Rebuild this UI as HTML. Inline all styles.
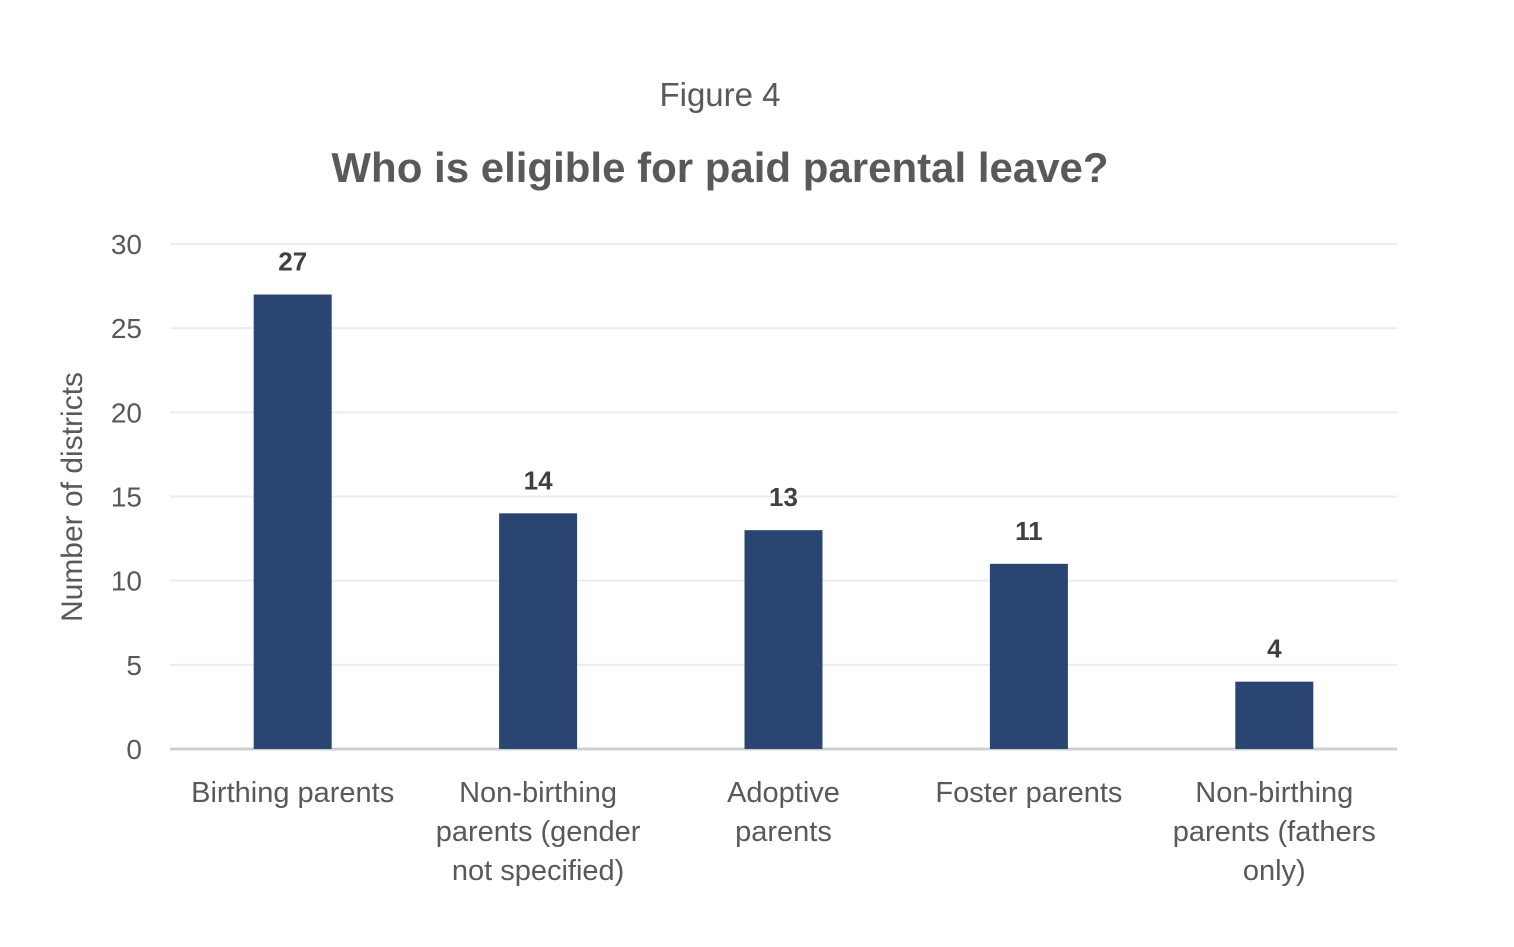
<!DOCTYPE html>
<html><head><meta charset="utf-8"><style>
body{margin:0;background:#fff;}
svg text{font-family:"Liberation Sans",Arial,sans-serif;}
</style></head><body>
<svg width="1514" height="942" id="c">
<text x="720" y="106" text-anchor="middle" font-size="33" fill="#595959">Figure 4</text>
<text x="720" y="182" text-anchor="middle" font-size="42" font-weight="bold" fill="#595959">Who is eligible for paid parental leave?</text>
<text transform="translate(82,497) rotate(-90)" text-anchor="middle" font-size="30" fill="#595959">Number of districts</text>
<g id="g"></g>
</svg>
<script>
const categories=[["Birthing parents"],["Non-birthing","parents (gender","not specified)"],["Adoptive","parents"],["Foster parents"],["Non-birthing","parents (fathers","only)"]];
const values=[27,14,13,11,4];
const yTicks=[0,5,10,15,20,25,30];
const NS="http://www.w3.org/2000/svg";
const g=document.getElementById('g');
const x0=170,x1=1397,yBase=749,yTop=244,yMax=30;
const y=v=>yBase-(v/yMax)*(yBase-yTop);
const band=(x1-x0)/categories.length;
const cx=i=>x0+band*(i+0.5);
function el(t,a,txt){const e=document.createElementNS(NS,t);for(const k in a)e.setAttribute(k,a[k]);if(txt!==undefined)e.textContent=txt;g.appendChild(e);return e;}
yTicks.forEach(t=>{
 const l=el('line',{x1:x0,x2:x1,y1:y(t),y2:y(t),stroke:t===0?'#d0d0d0':'#ececec','stroke-width':t===0?3:2});
 
 
 const tx=el('text',{x:142,y:y(t)+10,'text-anchor':'end','font-size':28,fill:'#595959'},t);
 
 
});
values.forEach((v,i)=>{
 const b=el('rect',{x:cx(i)-39,y:y(v),width:78,height:yBase-y(v),fill:'#2b4573'});
 
 
 const vl=el('text',{x:cx(i),y:y(v)-24,'text-anchor':'middle','font-size':26,'font-weight':'bold',fill:'#404040'},v);
 
 
 categories[i].forEach((line,j)=>{
  const c=el('text',{x:cx(i),y:802+j*39,'text-anchor':'middle','font-size':29,fill:'#595959'},line);
  
  
 });
});
</script>
</body></html>
